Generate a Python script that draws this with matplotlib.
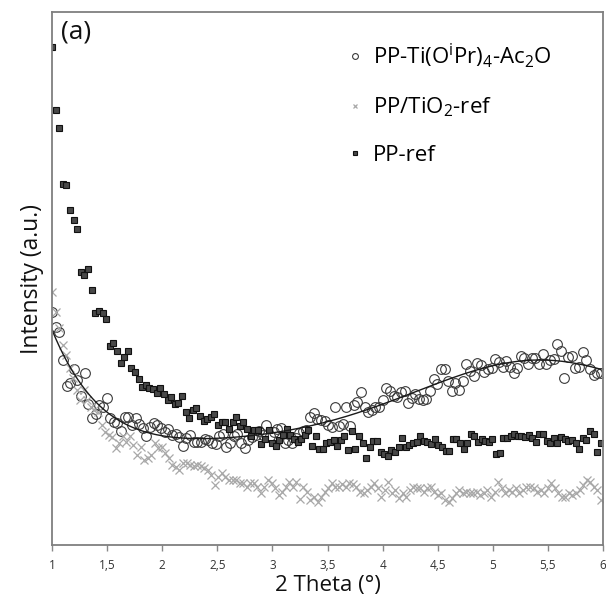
import numpy as np
import matplotlib
matplotlib.use("Agg")
import matplotlib.pyplot as plt

# Intensity values (a.u.), ordered by 2-theta
pp_ti = [233, 218, 213, 185, 159, 162, 176, 165, 149, 172, 141, 127, 131, 140, 138, 147, 127, 123, 122, 114,
         128, 128, 120, 127, 121, 117, 109, 118, 122, 120, 117, 113, 116, 110, 111, 108, 99, 107, 110, 103,
         103, 103, 106, 105, 102, 101, 109, 111, 98, 102, 109, 111, 102, 97, 105, 108, 110, 114, 110, 120,
         109, 113, 116, 117, 102,
         105, 102, 107, 112, 114, 115, 128, 132, 126, 125, 124, 120, 118, 138, 119, 121, 138, 119, 140, 143,
         153, 138, 133, 135, 138, 138, 145, 157, 154, 149, 148, 153, 154, 142, 147, 151, 146, 145, 146, 154,
         166, 161, 176, 176, 164, 154, 162, 155, 164, 181, 174, 169, 182, 180, 173, 176, 177, 186, 183, 178,
         184, 178, 172, 177, 189, 187, 181, 187, 187, 181, 191, 181, 185, 186, 201, 194, 167, 188, 189, 177,
         178, 193, 185, 176, 170, 172, 172]

pp_tio2 = [253, 233, 217, 200, 190, 177, 167, 155, 145, 155, 145, 138, 135, 133, 120, 113, 110, 108, 97, 102,
           109, 103, 109, 100, 90, 98, 85, 87, 90, 102, 97, 98, 92, 87, 80, 78, 75, 82, 82, 80,
           79, 80, 79, 77, 75, 70, 60, 68, 72, 68, 65, 65, 65, 62, 62, 58, 62, 62, 58, 52,
           58, 65, 62, 57, 50, 53, 58, 63,
           58, 63, 46, 58, 53, 45, 48, 43, 48, 53, 57, 62, 58, 58, 61, 58, 62, 61, 58, 53,
           52, 55, 58, 62, 57, 48, 55, 63, 52, 55, 47, 52, 48, 55, 58, 57, 57, 53, 57, 58,
           53, 50, 52, 45, 43, 47, 52, 55, 52, 53, 52, 52, 53, 50, 52, 55, 48, 53, 63, 57,
           52, 55, 53, 57, 52, 55, 58, 58, 57, 53, 55, 52, 57, 62, 57, 52, 48, 48, 52, 50,
           52, 55, 60, 65, 63, 58, 55, 45]

pp_ref = [498, 435, 417, 361, 360, 335, 325, 316, 273, 270, 276, 255, 232, 234, 232, 226, 199, 202, 194, 182,
          188, 194, 177, 173, 166, 158, 160, 157, 156, 152, 157, 151, 145, 148, 141, 142, 149, 133, 127, 135,
          137, 129, 124, 126, 128, 131, 120, 123, 123, 116, 123, 128, 119, 123, 116, 109, 115, 115, 101, 106,
          115, 102,
          99, 105, 110, 116, 110, 106, 103, 106, 110, 115, 99, 109, 96, 96, 102, 103, 105, 99, 105, 109,
          95, 114, 96, 109, 102, 87, 98, 104, 104, 93, 91,
          89, 95, 93, 98, 107, 98, 100, 102, 103, 109, 104, 103, 101, 106, 100, 98, 94, 94, 106, 106,
          102, 96, 102, 111, 109, 103, 106, 104, 103, 106, 91,
          92, 107, 107, 109, 111, 109, 109, 108, 110, 107, 103, 111, 111, 104, 102, 107, 102, 108, 106, 104,
          105, 102, 96, 107, 105, 114, 111, 93, 102]

theta_start, theta_end = 1.0, 5.98
x_ti = np.linspace(theta_start, theta_end, len(pp_ti))
x_tio2 = np.linspace(theta_start, theta_end, len(pp_tio2))
x_ref = np.linspace(theta_start, theta_end, len(pp_ref))

xticks = [1, 1.5, 2, 2.5, 3, 3.5, 4, 4.5, 5, 5.5, 6]
xtick_labels = ["1", "1,5", "2", "2,5", "3", "3,5", "4", "4,5", "5", "5,5", "6"]

plt.rcParams['font.family'] = ['Open Sans', 'DejaVu Sans']

fig = plt.figure(figsize=(6.06, 6.03), dpi=100)
ax = fig.add_axes([52/606, 58/603, (603-52)/606, (545-12)/603])

ax.plot(x_ti, pp_ti, linestyle='none', marker='o', markersize=7.0, markerfacecolor='none',
        markeredgecolor='#3a3a3a', markeredgewidth=0.8, label='PP-Ti(O$^{\\mathregular{i}}$Pr)$_{\\mathregular{4}}$-Ac$_{\\mathregular{2}}$O')
ax.plot(x_tio2, pp_tio2, linestyle='none', marker='x', markersize=5.5, color='#a8a8a8',
        markeredgewidth=0.9, label='PP/TiO$_{\\mathregular{2}}$-ref')
ax.plot(x_ref, pp_ref, linestyle='none', marker='s', markersize=4.6, markerfacecolor='#484848',
        markeredgecolor='#111111', markeredgewidth=0.8, label='PP-ref')

# polynomial trend line of the PP-Ti series
coef = np.polyfit(x_ti, pp_ti, 6)
xs = np.linspace(theta_start, theta_end, 300)
ax.plot(xs, np.polyval(coef, xs), color='#1a1a1a', linewidth=1.0)

ax.set_xlim(1, 6)
ax.set_ylim(0, 533)
ax.set_xticks(xticks)
ax.set_xticklabels(xtick_labels, fontsize=8.5, color='#333333')
ax.set_yticks([])
ax.tick_params(axis='x', direction='out', length=4, width=1, color='#888888', pad=6)
for s in ax.spines.values():
    s.set_color('#7f7f7f')
    s.set_linewidth(1.3)

ax.set_xlabel('2 Theta (°)', fontsize=16, color='#111111', labelpad=2)
ax.set_ylabel('Intensity (a.u.)', fontsize=16.5, color='#111111', labelpad=6)

ax.text(0.016, 0.985, '(a)', transform=ax.transAxes, fontsize=19, va='top', ha='left', color='#111111')

leg = ax.legend(loc='upper left', bbox_to_anchor=(0.514, 0.962), frameon=False, fontsize=16,
                markerscale=0.6, handletextpad=0.3, labelspacing=1.15, handlelength=1.0,
                borderaxespad=0.0)

fig.savefig('out.png', dpi=100)
